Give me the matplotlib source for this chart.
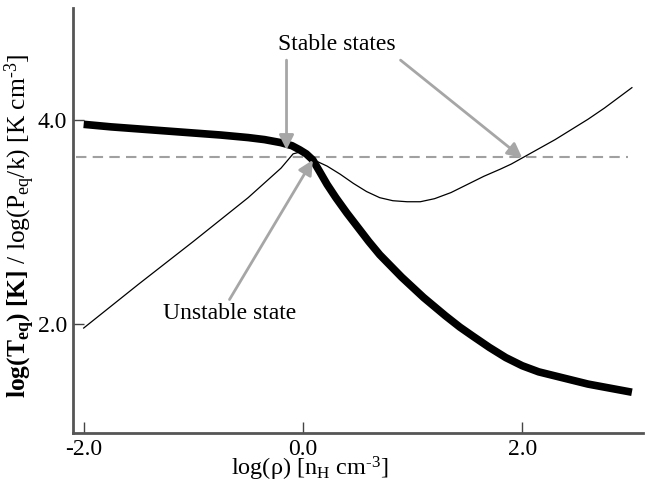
import matplotlib
matplotlib.use("Agg")
import matplotlib.pyplot as plt

plt.rcParams['font.family'] = ['Liberation Serif', 'DejaVu Serif']
plt.rcParams['mathtext.fontset'] = 'custom'
plt.rcParams['mathtext.rm'] = 'Liberation Serif'
plt.rcParams['mathtext.it'] = 'Liberation Serif:italic'
plt.rcParams['mathtext.bf'] = 'Liberation Serif:bold'

# equilibrium temperature curve (thick)
rho_T = [-2.0, -1.75, -1.5, -1.25, -1.0, -0.75, -0.5, -0.35, -0.2, -0.1, -0.03, 0.03,
         0.09, 0.15, 0.22, 0.3, 0.4, 0.5, 0.6, 0.7, 0.8, 0.9, 1.0, 1.1, 1.2, 1.3,
         1.43, 1.55, 1.7, 1.85, 2.0, 2.15, 2.3, 2.45, 2.6, 2.8, 3.0]
log_T = [3.96, 3.935, 3.915, 3.895, 3.875, 3.855, 3.83, 3.81, 3.78, 3.75, 3.71, 3.67,
         3.61, 3.50, 3.37, 3.24, 3.09, 2.95, 2.81, 2.68, 2.57, 2.46, 2.36, 2.26, 2.17, 2.08,
         1.97, 1.88, 1.77, 1.67, 1.59, 1.53, 1.49, 1.45, 1.41, 1.37, 1.33]

# equilibrium pressure curve (thin)
rho_P = [-2.0, -1.5, -1.0, -0.5, -0.2, -0.09, -0.02, 0.05, 0.12, 0.22, 0.34, 0.46,
         0.58, 0.7, 0.82, 0.95, 1.07, 1.2, 1.35, 1.5, 1.65, 1.8, 1.9, 2.0, 2.15, 2.3,
         2.45, 2.6, 2.75, 2.9, 3.0]
log_P = [1.96, 2.39, 2.81, 3.24, 3.53, 3.67, 3.69, 3.65, 3.60, 3.55, 3.47, 3.38,
         3.30, 3.24, 3.21, 3.20, 3.20, 3.23, 3.29, 3.37, 3.45, 3.52, 3.57, 3.63, 3.72, 3.81,
         3.91, 4.01, 4.12, 4.24, 4.32]

p_level = 3.64
dash_x = [-2.07, 2.96]

stable_pts = [(-0.15, 3.71), (2.0, 3.63)]
stable_tails = [(-0.15, 4.59), (0.89, 4.59)]
unstable_pt = (0.09, 3.61)
unstable_tail = (-0.67, 2.24)

xticks = [-2.0, 0.0, 2.0]
yticks = [2.0, 4.0]

fig = plt.figure(figsize=(6.52, 4.82), dpi=100)
ax = fig.add_axes([0.1115, 0.1017, 0.8745, 0.8813])

ax.plot(dash_x, [p_level, p_level], color='#a0a0a0', lw=1.5, dashes=(5, 3))
ax.plot(rho_P, log_P, color='black', lw=0.9)
ax.plot(rho_T, log_T, color='black', lw=5.5, solid_capstyle='butt', solid_joinstyle='round')

arrow = dict(arrowstyle='-|>', color='#a6a6a6', lw=2, mutation_scale=22, shrinkA=0, shrinkB=0)
for tip, tail in zip(stable_pts, stable_tails):
    ax.annotate('', xy=tip, xytext=tail, arrowprops=arrow)
ax.annotate('', xy=unstable_pt, xytext=unstable_tail, arrowprops=arrow)
ax.text(0.31, 4.74, 'Stable states', fontsize=17, ha='center', va='center')
ax.text(-0.67, 2.10, 'Unstable state', fontsize=17, ha='center', va='center')

ax.set_xlim(-2.1, 3.1)
ax.set_ylim(0.93, 5.1)
ax.set_xticks(xticks)
ax.set_xticklabels(['-2.0', '0.0', '2.0'])
ax.set_yticks(yticks)
ax.set_yticklabels(['2.0', '4.0'])
ax.tick_params(direction='in', length=8, width=1, color='#444444', labelsize=17)
ax.tick_params(axis='x', pad=4)
ax.tick_params(axis='y', pad=4)
for s in ['top', 'right']:
    ax.spines[s].set_visible(False)
for s in ['left', 'bottom']:
    ax.spines[s].set_color('#555555')
    ax.spines[s].set_linewidth(2)

ax.set_xlabel(r'log(ρ) [n$_{\rm H}$ cm$^{\text{-}3}$]', fontsize=17.5, va='baseline')
ax.xaxis.set_label_coords(0.416, -0.099)
ax.set_ylabel(r'$\mathbf{log(T_{eq})\ [K]}$ / log(P$_{\rm eq}$/k) [K cm$^{\text{-}3}$]',
              fontsize=18.4)
ax.yaxis.set_label_coords(-0.063, 0.487)

fig.savefig('out.png', dpi=100)
